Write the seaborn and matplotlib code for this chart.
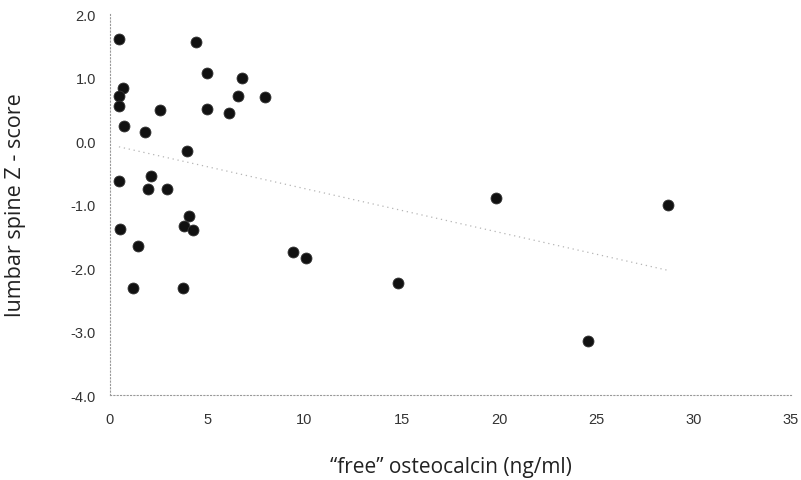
import numpy as np
import pandas as pd
import seaborn as sns
import matplotlib.pyplot as plt

# "free" osteocalcin (ng/ml) vs lumbar spine Z-score
osteocalcin = [0.46, 4.42, 4.98, 6.78, 0.67, 0.46, 0.46, 2.57, 4.98, 6.58,
               6.12, 7.96, 0.72, 1.80, 3.96, 0.46, 2.11, 1.95, 2.93, 4.06,
               3.80, 4.27, 0.51, 1.44, 9.40, 10.07, 1.18, 3.75, 14.8, 19.84,
               28.67, 24.56]
z_score = [1.61, 1.56, 1.07, 1.00, 0.83, 0.71, 0.55, 0.49, 0.50, 0.71,
           0.44, 0.69, 0.24, 0.14, -0.16, -0.63, -0.55, -0.76, -0.76, -1.18,
           -1.34, -1.40, -1.39, -1.65, -1.75, -1.84, -2.31, -2.31, -2.24, -0.90,
           -1.00, -3.15]

x_ticks = [0, 5, 10, 15, 20, 25, 30, 35]
y_ticks = [2.0, 1.0, 0.0, -1.0, -2.0, -3.0, -4.0]

df = pd.DataFrame({'oc': osteocalcin, 'z': z_score})

sns.set_style('white')
plt.rcParams['font.family'] = ['Liberation Sans', 'DejaVu Sans']

fig = plt.figure(figsize=(8.01, 4.81), dpi=100)
ax = fig.add_axes([0.1373, 0.1767, 0.8502, 0.7921])

sns.regplot(data=df, x='oc', y='z', ax=ax, ci=None, truncate=True,
            scatter_kws={'s': 62, 'color': '#111111', 'edgecolor': '#333333',
                         'linewidths': 0.6, 'alpha': 1},
            line_kws={'color': '#b5b5b5', 'lw': 0.9, 'ls': (0, (1, 3))})

ax.set_xlim(0, 35)
ax.set_ylim(-4.0, 2.0)
ax.set_xticks(x_ticks)
ax.set_xticklabels([str(t) for t in x_ticks])
ax.set_yticks(y_ticks)
ax.set_yticklabels([f'{t:.1f}' for t in y_ticks])
ax.tick_params(axis='both', labelsize=10.5, colors='#333333', length=2, width=0.6, pad=10)
ax.tick_params(axis='y', pad=8)

for side in ['top', 'right']:
    ax.spines[side].set_visible(False)
for side in ['left', 'bottom']:
    ax.spines[side].set_color('#999999')
    ax.spines[side].set_linewidth(0.8)
    ax.spines[side].set_linestyle((0, (1, 2)))

ax.set_xlabel('\u201cfree\u201d osteocalcin (ng/ml)', fontsize=15, color='#222222', labelpad=22,
              family=['Open Sans', 'DejaVu Sans'])
ax.set_ylabel('lumbar spine Z - score', fontsize=15.5, color='#222222', labelpad=32,
              family=['Open Sans', 'DejaVu Sans'])

plt.savefig('out.png', dpi=100)
